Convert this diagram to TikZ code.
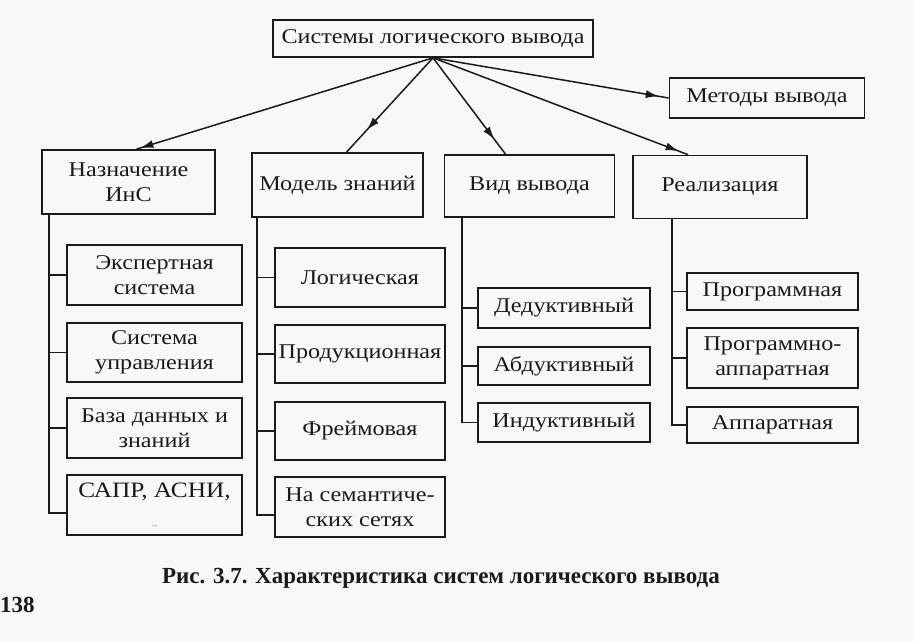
\documentclass[tikz,border=0pt]{standalone}
\usepackage{fontspec}
\setmainfont{Liberation Serif}
\newfontfamily\bx{Liberation Serif}[FakeStretch=1.15]
\usetikzlibrary{arrows.meta,decorations.markings,calc}
\definecolor{ink}{HTML}{1A1A1A}
\definecolor{paper}{HTML}{F8F8F6}
\begin{document}
\begin{tikzpicture}[x=1pt,y=-1pt,
  box/.style={draw=ink, line width=1.7pt, align=center, inner sep=1pt, text=ink,
              font=\bx\fontsize{21}{25}\selectfont},
  conn/.style={draw=ink, line width=1.6pt},
  arr/.style={draw=ink, line width=1.5pt, postaction={decorate},
              decoration={markings, mark=at position #1 with {\arrow[ink]{Latex[length=13pt,width=8pt]}}}}
]
\fill[paper] (0,0) rectangle (914,642);
\useasboundingbox (0,0) rectangle (914,642);

% top
\node[box, minimum width=320pt, minimum height=37pt] (top) at (433,38.5) {Системы логического вывода};
\node[box, minimum width=195pt, minimum height=40pt] (met) at (767,98) {Методы вывода};

% level 2
\node[box, minimum width=173pt, minimum height=64pt] (n1) at (128.5,182) {Назначение\\ИнС};
\node[box, minimum width=171pt, minimum height=64pt] (n2) at (337.5,185) {Модель знаний};
\node[box, minimum width=170pt, minimum height=62pt] (n3) at (529.5,186) {Вид вывода};
\node[box, minimum width=174pt, minimum height=63pt] (n4) at (720,187) {Реализация};

% arrows
\draw[arr=-4pt] (top.south) -- ([xshift=8pt]n1.north);
\draw[arr=-30pt] (top.south) -- ([xshift=9pt]n2.north);
\draw[arr=-18pt] (top.south) -- ([xshift=-24pt]n3.north);
\draw[arr=-10pt] (top.south) -- ([xshift=-32pt]n4.north);
\draw[arr=-10pt] (top.south) -- (met.west);

% column 1
\node[box, minimum width=175pt, minimum height=60pt] (c11) at (154.5,275) {Экспертная\\система};
\node[box, minimum width=175pt, minimum height=59pt] (c12) at (154.5,352.5) {Система\\управления};
\node[box, minimum width=175pt, minimum height=60pt] (c13) at (154.5,428) {База данных и\\знаний};
\node[box, minimum width=175pt, minimum height=60pt] (c14) at (154.5,505) {\fontsize{22}{22}\selectfont САПР, АСНИ,\\[4pt]{\fontsize{6}{6}\selectfont ...}};

% column 2
\node[box, minimum width=170pt, minimum height=59pt] (c21) at (360,277.5) {Логическая};
\node[box, minimum width=170pt, minimum height=58pt] (c22) at (360,354) {Продукционная};
\node[box, minimum width=170pt, minimum height=58pt] (c23) at (360,431) {Фреймовая};
\node[box, minimum width=170pt, minimum height=60pt] (c24) at (360,507) {На семантиче-\\ских сетях};

% column 3
\node[box, minimum width=172pt, minimum height=40pt] (c31) at (564,308) {Дедуктивный};
\node[box, minimum width=172pt, minimum height=38pt] (c32) at (564,366) {Абдуктивный};
\node[box, minimum width=172pt, minimum height=39pt] (c33) at (564,422.5) {Индуктивный};

% column 4
\node[box, minimum width=171pt, minimum height=37pt] (c41) at (772.5,291.5) {Программная};
\node[box, minimum width=171pt, minimum height=60pt] (c42) at (772.5,358) {Программно-\\аппаратная};
\node[box, minimum width=171pt, minimum height=36pt] (c43) at (772.5,425) {Аппаратная};

% trunks
\coordinate (t1) at ([xshift=8pt]n1.south west);
\coordinate (t2) at ([xshift=6pt]n2.south west);
\coordinate (t3) at ([xshift=18.5pt]n3.south west);
\coordinate (t4) at ([xshift=40pt]n4.south west);

\draw[conn] (t1) |- ([yshift=-8pt]c14.west);
\draw[conn] (t1 |- c11.west) -- (c11.west);
\draw[conn] (t1 |- c12.west) -- (c12.west);
\draw[conn] (t1 |- c13.west) -- (c13.west);

\draw[conn] (t2) |- ([yshift=-8pt]c24.west);
\draw[conn] (t2 |- c21.west) -- (c21.west);
\draw[conn] (t2 |- c22.west) -- (c22.west);
\draw[conn] (t2 |- c23.west) -- (c23.west);

\draw[conn] (t3) |- (c33.west);
\draw[conn] (t3 |- c31.west) -- (c31.west);
\draw[conn] (t3 |- c32.west) -- (c32.west);

\draw[conn] (t4) |- (c43.west);
\draw[conn] (t4 |- c41.west) -- (c41.west);
\draw[conn] (t4 |- c42.west) -- (c42.west);

% caption
\node[text=ink, font=\fontsize{23}{23}\selectfont\bfseries, inner sep=0pt] (cap) at (441,578)
  {Рис. 3.7. Характеристика систем логического вывода};
\node[text=ink, font=\fontsize{23}{23}\selectfont\bfseries, inner sep=0pt, anchor=west] (page) at (0,605)
  {138};
\end{tikzpicture}
\end{document}
